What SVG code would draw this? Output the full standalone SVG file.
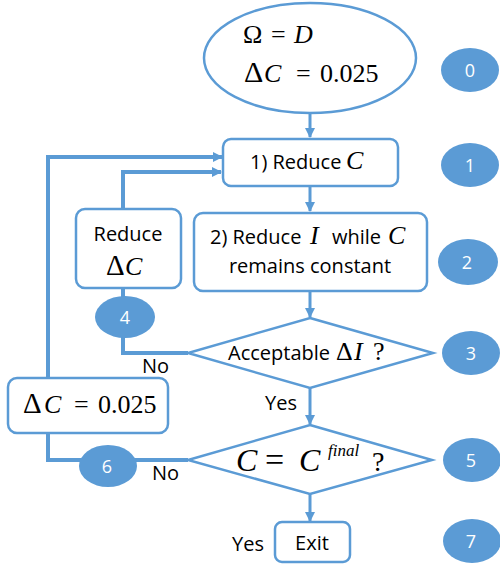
<svg xmlns="http://www.w3.org/2000/svg" width="500" height="565" viewBox="0 0 500 565">
<defs>
<marker id="ah" viewBox="0 0 10 10" refX="9" refY="5" markerWidth="10" markerHeight="10" markerUnits="userSpaceOnUse" orient="auto">
<path d="M0,0 L10,5 L0,10 z" fill="#5B9BD5"/>
</marker>
</defs>
<style>
.sh{fill:#fff;stroke:#5B9BD5;stroke-width:2.5}
.cn{fill:none;stroke:#5B9BD5;stroke-width:3}
.lp{fill:none;stroke:#5B9BD5;stroke-width:4}
.bd{fill:#5B9BD5;stroke:none}
.bt{font-family:"Open Sans","Liberation Sans",sans-serif;font-size:18px;fill:#fff;text-anchor:middle}
.t{font-family:"Open Sans","Liberation Sans",sans-serif;font-size:20px;fill:#000}
.m{font-family:"Liberation Serif","DejaVu Serif",serif;fill:#000;font-size:26px}
.i{font-style:italic}
</style>
<rect width="500" height="565" fill="#fff"/>
<g id="connectors">
<path class="cn" d="M310,113 V137" marker-end="url(#ah)"/>
<path class="cn" d="M310,186 V211" marker-end="url(#ah)"/>
<path class="cn" d="M310,291 V317" marker-end="url(#ah)"/>
<path class="cn" d="M310,388 V424" marker-end="url(#ah)"/>
<path class="cn" d="M310,493 V521" marker-end="url(#ah)"/>
<path class="lp" d="M48,378 V157 H222" marker-end="url(#ah)"/>
<path class="lp" d="M123,209 V172 H221" marker-end="url(#ah)"/>
<path class="lp" d="M188,353 H123 V288"/>
<path class="lp" d="M188,460 H48 V433"/>
</g>
<g id="n0">
<ellipse class="sh" cx="310" cy="58" rx="106" ry="55"/>
<text class="m" y="43"><tspan x="243">Ω</tspan><tspan x="271">=</tspan><tspan class="i" x="294">D</tspan></text>
<text class="m" y="82"><tspan x="244" font-size="30">Δ</tspan><tspan class="i" x="264">C</tspan><tspan x="296">=</tspan><tspan x="320">0.025</tspan></text>
</g>
<g id="n1">
<rect class="sh" x="223" y="139" width="175" height="47" rx="8"/>
<text class="t" x="250" y="169">1) Reduce</text>
<text class="m i" x="346" y="169">C</text>
</g>
<g id="n2">
<rect class="sh" x="194" y="213" width="233" height="78" rx="9"/>
<text class="t" x="210" y="244">2) Reduce</text>
<text class="m i" x="310" y="244">I</text>
<text class="t" x="332" y="244">while</text>
<text class="m i" x="388" y="244">C</text>
<text class="t" x="310" y="273" text-anchor="middle">remains constant</text>
</g>
<g id="n3">
<path class="sh" d="M310,318 L433,353 L310,388 L188,353 Z"/>
<text class="t" x="228" y="360">Acceptable</text>
<text class="m" y="360"><tspan x="336">Δ</tspan><tspan class="i" x="354">I</tspan><tspan x="373">?</tspan></text>
</g>
<g id="n4">
<rect class="sh" x="76" y="209" width="105" height="79" rx="9"/>
<text class="t" x="128" y="241" text-anchor="middle">Reduce</text>
<text class="m" y="275"><tspan x="106" font-size="29">Δ</tspan><tspan class="i" x="125">C</tspan></text>
</g>
<g id="n5">
<path class="sh" d="M310,425 L432,460 L310,494 L188,460 Z"/>
<text class="m" y="471" font-size="31"><tspan class="i" x="236" font-size="32">C</tspan><tspan x="265" font-size="34">=</tspan><tspan class="i" x="299" font-size="32">C</tspan><tspan class="i" x="328" y="456" font-size="17">final</tspan><tspan x="372" y="471" font-size="28">?</tspan></text>
</g>
<g id="n6">
<rect class="sh" x="8" y="378" width="160" height="55" rx="9"/>
<text class="m" y="413"><tspan x="23" font-size="29">Δ</tspan><tspan class="i" x="44">C</tspan><tspan x="74">=</tspan><tspan x="98">0.025</tspan></text>
</g>
<g id="n7">
<rect class="sh" x="275" y="522" width="75" height="40" rx="7"/>
<text class="t" x="312" y="550" text-anchor="middle">Exit</text>
</g>
<g id="labels">
<text class="t" x="142" y="373">No</text>
<text class="t" x="152" y="480">No</text>
<text class="t" x="265" y="410">Yes</text>
<text class="t" x="232" y="551">Yes</text>
</g>
<g id="badges">
<ellipse class="bd" cx="125" cy="317" rx="30" ry="21"/><text class="bt" x="125" y="324">4</text>
<ellipse class="bd" cx="108" cy="466" rx="29" ry="21"/><text class="bt" x="107" y="473">6</text>
<ellipse class="bd" cx="470" cy="70" rx="29" ry="22"/><text class="bt" x="470" y="77">0</text>
<ellipse class="bd" cx="470" cy="165" rx="29" ry="22"/><text class="bt" x="470" y="172">1</text>
<ellipse class="bd" cx="468" cy="262" rx="30" ry="23"/><text class="bt" x="467" y="269">2</text>
<ellipse class="bd" cx="471" cy="353" rx="29" ry="22"/><text class="bt" x="471" y="360">3</text>
<ellipse class="bd" cx="472" cy="460" rx="29" ry="22"/><text class="bt" x="471" y="467">5</text>
<ellipse class="bd" cx="472" cy="541" rx="29" ry="22"/><text class="bt" x="471" y="548">7</text>
</g>
</svg>
